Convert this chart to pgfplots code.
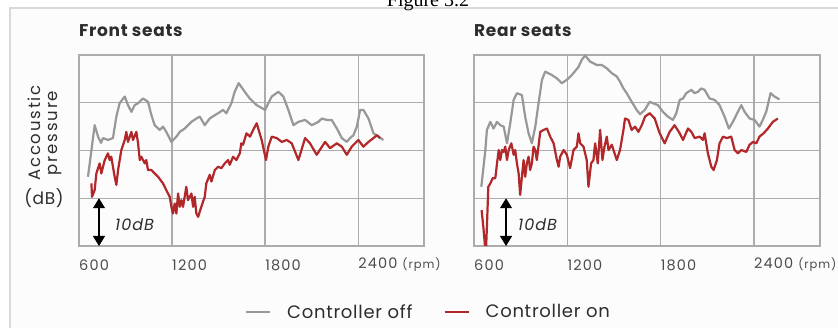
\documentclass[border=0pt]{standalone}
\usepackage{pgfplots}
\pgfplotsset{compat=1.18}
\usepackage{fontspec}
\setmainfont{Poppins}
\newfontfamily\capfont{Liberation Serif}
\usetikzlibrary{arrows.meta}
\definecolor{offgray}{RGB}{152,152,152}
\definecolor{onred}{RGB}{178,40,42}
\definecolor{gridgray}{RGB}{172,172,172}
\definecolor{txt}{RGB}{45,45,45}

\pgfplotsset{
  seatax/.style={
    anchor=south west, scale only axis, height=191pt,
    xmin=600, xmax=2825, ymin=0, ymax=40,
    xtick={600,1200,1800,2400},
    xticklabels={600,1200,1800,{2400 {\fontsize{11.5}{12}\selectfont(rpm)}}},
    ytick={10,20,30}, yticklabels={},
    major tick length=0pt,
    grid=major,
    grid style={gridgray, line width=1.2pt},
    axis line style={gridgray, line width=1.2pt},
    xticklabel style={anchor=west, inner sep=0pt, yshift=-19pt, font=\addfontfeature{LetterSpace=8}\fontsize{14.5}{15}\selectfont, text=txt!85},
    title style={at={(axis description cs:0,1)}, anchor=base west, inner sep=0pt, yshift=12pt, font=\addfontfeature{LetterSpace=4}\fontsize{17}{18}\selectfont\bfseries, text=txt},
    offline/.style={offgray, line width=2.2pt, line join=round},
    online/.style={onred, line width=2.2pt, line join=round},
  }
}

\begin{document}
\begin{tikzpicture}[x=1pt,y=1pt]
\useasboundingbox (0,0) rectangle (838,328);
\fill[white] (0,0) rectangle (838,328);
\fill[black!1] (10,0) rectangle (838,320);
\draw[black!15, line width=1.5pt] (10,0) -- (10,320) -- (838,320);
\node[anchor=base, inner sep=0pt, font=\capfont\fontsize{20}{22}\selectfont] at (428,321) {Figure 3.2};

\node[rotate=90, align=center, inner sep=0pt, text=txt, font=\addfontfeature{LetterSpace=11}\fontsize{16.5}{16.5}\selectfont] at (45,195) {Accoustic\\pressure};
\node[inner sep=0pt, text=txt, font=\addfontfeature{LetterSpace=4}\fontsize{17}{18}\selectfont] at (44,130) {(dB)};

\begin{axis}[seatax, at={(79pt,82pt)}, width=345pt, title={Front seats},
  legend columns=2,
  legend style={at={(axis description cs:1.01,-0.346)}, anchor=center, draw=none, fill=none,
    font=\addfontfeature{LetterSpace=4}\fontsize{18}{19}\selectfont, text=txt,
    nodes={inner sep=0pt},
    /tikz/every odd column/.append style={column sep=16pt},
    /tikz/every even column/.append style={column sep=31pt}},
  legend image code/.code={\draw[#1] (0pt,0pt) -- (24pt,0pt);},
]
\addplot[offline] coordinates {(658,14.5)(701,25.3)(723,22.9)(742,21.6)(755,22.6)(787,22.2)(819,22.6)(841,27.1)(862,29.9)(895,31.3)(916,29.5)(938,28.1)(959,29.5)(981,29.9)(1013,30.9)(1045,30.2)(1067,27.4)(1088,25.3)(1121,24.3)(1142,25.0)(1163,23.9)(1196,21.8)(1228,22.9)(1250,23.9)(1282,24.6)(1303,25.3)(1325,26.0)(1357,26.7)(1379,27.1)(1411,25.3)(1443,26.7)(1476,27.4)(1497,27.8)(1529,28.5)(1550,27.8)(1583,29.9)(1604,32.3)(1630,34.1)(1669,32.3)(1701,30.9)(1746,29.5)(1800,28.5)(1843,31.3)(1886,32.3)(1918,31.3)(1950,28.5)(1983,25.3)(2015,26.0)(2058,26.4)(2101,25.3)(2144,26.0)(2166,26.7)(2198,26.4)(2230,26.4)(2263,24.6)(2295,22.6)(2327,21.8)(2348,22.6)(2370,23.2)(2392,25.0)(2413,28.5)(2434,28.5)(2467,26.7)(2499,23.6)(2531,22.9)(2563,22.2)};
\addlegendentry{Controller off}
\addplot[online] coordinates {(680,13.1)(684,10.3)(701,11.7)(712,15.2)(733,17.3)(744,15.2)(766,18.0)(787,19.4)(798,18.0)(808,18.7)(830,14.5)(841,12.8)(852,15.9)(873,20.1)(895,22.2)(905,23.9)(916,21.8)(938,23.9)(948,22.2)(970,23.9)(981,21.5)(992,18.0)(1002,18.7)(1024,17.3)(1034,18.0)(1045,15.9)(1067,15.9)(1088,15.2)(1110,14.5)(1142,13.1)(1163,11.7)(1185,10.3)(1196,8.2)(1206,6.8)(1217,8.9)(1228,6.8)(1239,11.0)(1250,8.2)(1260,9.6)(1271,8.2)(1292,12.4)(1303,9.6)(1325,11.0)(1336,8.2)(1346,10.3)(1357,6.8)(1368,6.1)(1389,8.2)(1411,10.3)(1421,13.1)(1443,14.9)(1454,13.5)(1476,15.9)(1497,16.6)(1518,16.3)(1540,17.3)(1561,18.0)(1572,17.0)(1594,18.7)(1615,18.0)(1637,19.4)(1647,21.5)(1658,21.2)(1680,23.6)(1703,22.9)(1723,24.3)(1746,25.7)(1778,22.2)(1806,18.0)(1821,20.8)(1843,22.9)(1875,22.6)(1908,21.8)(1940,22.2)(1972,21.5)(2015,18.0)(2058,22.6)(2090,21.5)(2133,19.1)(2187,21.8)(2219,20.5)(2263,21.5)(2295,20.8)(2327,19.1)(2359,20.8)(2402,22.2)(2434,20.8)(2467,21.8)(2499,22.6)(2521,23.2)(2542,22.6)};
\addlegendentry{Controller on}
\draw[black, line width=1.2pt, {Triangle[width=12pt,length=10pt]}-{Triangle[width=12pt,length=10pt]}] (axis cs:729,0) -- (axis cs:729,10);
\node[anchor=west, inner sep=0pt, text=txt, font=\addfontfeature{LetterSpace=6}\fontsize{16}{17}\selectfont\itshape] at (axis cs:832,4.4) {10dB};
\end{axis}

\begin{axis}[seatax, at={(474pt,82pt)}, width=346pt, title={Rear seats}]
\addplot[offline] coordinates {(647,12.4)(673,20.1)(683,24.3)(705,26.0)(726,24.6)(748,26.0)(769,25.3)(791,25.0)(812,21.5)(833,25.7)(855,30.6)(876,32.0)(908,31.6)(929,27.1)(951,23.6)(972,21.5)(994,25.0)(1015,29.9)(1037,34.8)(1058,36.5)(1101,35.8)(1133,35.1)(1165,34.1)(1197,34.8)(1229,35.8)(1272,37.5)(1293,39.0)(1315,39.9)(1347,38.6)(1390,37.9)(1422,37.9)(1454,37.2)(1486,36.2)(1518,35.5)(1539,34.4)(1561,33.0)(1582,32.0)(1614,30.2)(1646,28.5)(1668,27.6)(1698,28.5)(1730,30.2)(1751,29.9)(1783,29.5)(1815,28.1)(1847,27.1)(1879,26.4)(1901,27.8)(1923,30.6)(1944,30.9)(1965,32.0)(1998,32.7)(2019,32.0)(2040,32.3)(2062,33.0)(2083,32.7)(2115,30.9)(2147,30.6)(2179,29.5)(2211,27.1)(2239,24.6)(2265,26.0)(2297,28.1)(2319,29.5)(2340,28.1)(2372,26.7)(2404,26.4)(2436,25.0)(2457,26.4)(2479,28.1)(2507,32.0)(2532,31.3)(2564,30.7)};
\addplot[online] coordinates {(649,7.5)(660,4.0)(676,-2.0)(684,5.0)(692,12.4)(705,13.1)(720,14.2)(737,14.2)(748,17.3)(759,20.1)(769,18.0)(780,20.1)(791,19.7)(801,20.8)(812,18.0)(823,20.1)(840,21.5)(855,19.1)(865,20.1)(876,17.3)(887,15.2)(897,10.7)(908,14.5)(919,18.0)(929,14.5)(940,17.3)(951,18.7)(961,15.9)(972,17.3)(983,20.8)(994,20.1)(1004,18.0)(1026,23.9)(1047,24.3)(1069,24.6)(1090,22.9)(1112,21.5)(1133,18.0)(1144,16.6)(1154,18.7)(1176,20.1)(1197,19.1)(1218,16.3)(1240,20.1)(1261,20.8)(1272,23.6)(1283,21.5)(1304,20.8)(1325,18.0)(1336,12.4)(1353,17.3)(1368,18.0)(1379,21.5)(1396,17.3)(1411,24.3)(1426,18.0)(1439,20.8)(1454,22.9)(1465,20.1)(1486,21.2)(1518,18.0)(1539,20.1)(1561,24.3)(1571,26.7)(1593,26.4)(1614,24.3)(1636,25.0)(1657,23.9)(1679,25.3)(1700,27.1)(1730,27.8)(1762,26.7)(1794,23.6)(1826,21.5)(1858,23.9)(1890,25.3)(1923,23.6)(1944,22.2)(1976,24.6)(1998,23.9)(2019,22.6)(2051,22.9)(2072,22.2)(2083,23.6)(2104,19.4)(2126,16.6)(2141,15.9)(2162,18.0)(2179,21.5)(2201,22.9)(2226,22.6)(2254,22.9)(2276,20.1)(2297,19.4)(2319,20.1)(2351,19.7)(2372,21.2)(2394,21.8)(2415,21.5)(2436,22.9)(2462,23.6)(2490,24.6)(2522,26.0)(2554,26.7)};
\draw[black, line width=1.2pt, {Triangle[width=12pt,length=10pt]}-{Triangle[width=12pt,length=10pt]}] (axis cs:806,0) -- (axis cs:806,10);
\node[anchor=west, inner sep=0pt, text=txt, font=\addfontfeature{LetterSpace=6}\fontsize{16}{17}\selectfont\itshape] at (axis cs:883,4.4) {10dB};
\end{axis}
\end{tikzpicture}
\end{document}
